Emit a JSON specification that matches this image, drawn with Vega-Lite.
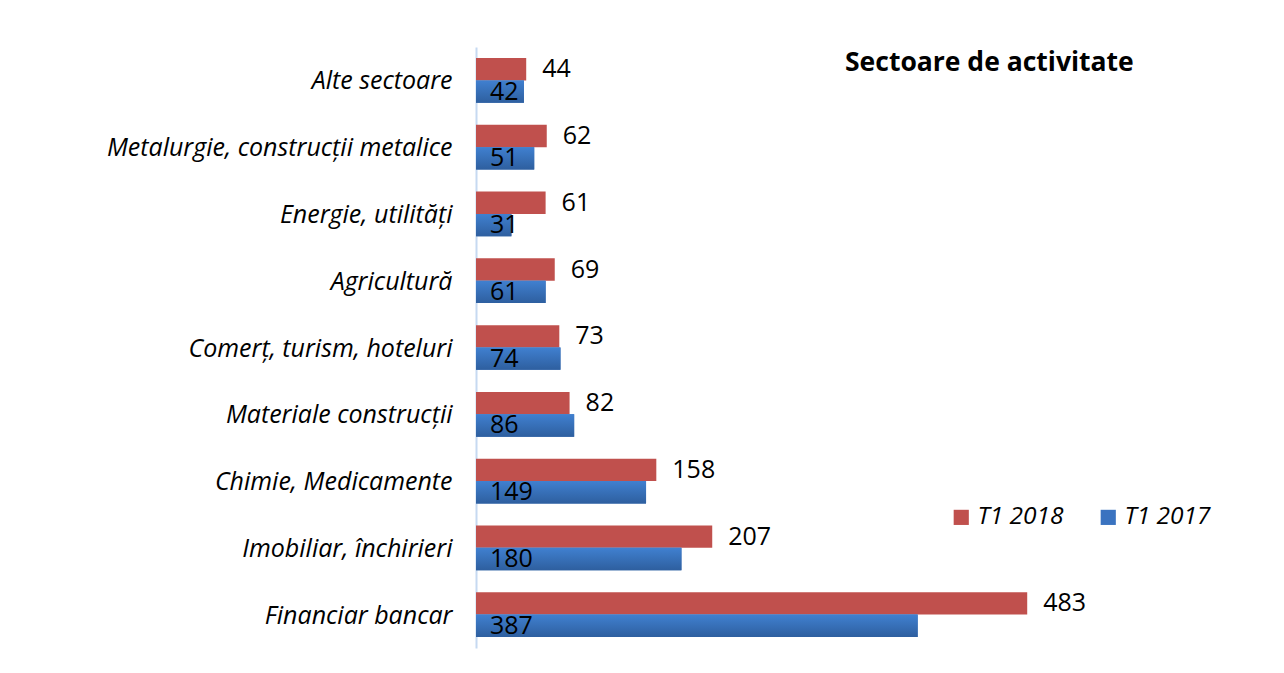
{
  "$schema": "https://vega.github.io/schema/vega-lite/v6.json",
  "autosize": {"type": "none"},
  "width": 800,
  "height": 601,
  "padding": {"left": 476, "top": 47, "right": 8, "bottom": 25},
  "background": "white",
  "config": {"view": {"stroke": null}, "font": "Open Sans"},
  "title": {
    "text": "Sectoare de activitate",
    "anchor": "start",
    "frame": "group",
    "orient": "top",
    "offset": 0,
    "baseline": "alphabetic",
    "dx": 369,
    "dy": 50,
    "font": "Open Sans",
    "fontSize": 26.5,
    "fontWeight": "bold",
    "color": "#000000"
  },
  "data": {
    "values": [
      {"category": "Alte sectoare", "series": "T1 2018", "value": 44},
      {"category": "Alte sectoare", "series": "T1 2017", "value": 42},
      {"category": "Metalurgie, construcții metalice", "series": "T1 2018", "value": 62},
      {"category": "Metalurgie, construcții metalice", "series": "T1 2017", "value": 51},
      {"category": "Energie, utilități", "series": "T1 2018", "value": 61},
      {"category": "Energie, utilități", "series": "T1 2017", "value": 31},
      {"category": "Agricultură", "series": "T1 2018", "value": 69},
      {"category": "Agricultură", "series": "T1 2017", "value": 61},
      {"category": "Comerț, turism, hoteluri", "series": "T1 2018", "value": 73},
      {"category": "Comerț, turism, hoteluri", "series": "T1 2017", "value": 74},
      {"category": "Materiale construcții", "series": "T1 2018", "value": 82},
      {"category": "Materiale construcții", "series": "T1 2017", "value": 86},
      {"category": "Chimie, Medicamente", "series": "T1 2018", "value": 158},
      {"category": "Chimie, Medicamente", "series": "T1 2017", "value": 149},
      {"category": "Imobiliar, închirieri", "series": "T1 2018", "value": 207},
      {"category": "Imobiliar, închirieri", "series": "T1 2017", "value": 180},
      {"category": "Financiar bancar", "series": "T1 2018", "value": 483},
      {"category": "Financiar bancar", "series": "T1 2017", "value": 387}
    ]
  },
  "encoding": {
    "y": {
      "field": "category",
      "type": "nominal",
      "sort": ["Alte sectoare", "Metalurgie, construcții metalice", "Energie, utilități", "Agricultură", "Comerț, turism, hoteluri", "Materiale construcții", "Chimie, Medicamente", "Imobiliar, închirieri", "Financiar bancar"],
      "scale": {"paddingInner": 0.33, "paddingOuter": 0.165},
      "axis": {
        "title": null,
        "ticks": false,
        "grid": false,
        "domain": true,
        "domainColor": "#c6d9f1",
        "domainWidth": 2,
        "labelFont": "Open Sans",
        "labelFontSize": 25,
        "labelFontStyle": "italic",
        "labelColor": "#000000",
        "labelPadding": 24,
        "labelOffset": 1,
        "labelLimit": 500
      }
    },
    "yOffset": {
      "field": "series",
      "type": "nominal",
      "scale": {"domain": ["T1 2018", "T1 2017"], "paddingInner": 0, "paddingOuter": 0}
    },
    "x": {
      "field": "value",
      "type": "quantitative",
      "scale": {"domain": [0, 701], "nice": false},
      "axis": null
    }
  },
  "layer": [
    {
      "transform": [{"filter": "datum.series === 'T1 2017'"}],
      "mark": {"type": "bar", "color": "#d4d4d4", "yOffset": 5, "x2Offset": 3},
      "encoding": {}
    },
    {
      "mark": {"type": "bar"},
      "encoding": {
        "color": {
          "field": "series",
          "type": "nominal",
          "scale": {"domain": ["T1 2018", "T1 2017"], "range": ["#c0504d", "#3a73c0"]},
          "legend": {
            "title": null,
            "orient": "none",
            "direction": "horizontal",
            "legendX": 473,
            "legendY": 458,
            "symbolType": "square",
            "symbolSize": 230,
            "symbolStrokeWidth": 0,
            "labelFont": "Open Sans",
            "labelFontSize": 24.5,
            "labelFontStyle": "italic",
            "labelColor": "#000000",
            "columnPadding": 32,
            "labelOffset": 4
          }
        }
      }
    },
    {
      "transform": [{"filter": "datum.series === 'T1 2017'"}],
      "mark": {
        "type": "bar",
        "color": {
          "gradient": "linear",
          "x1": 0, "y1": 0, "x2": 0, "y2": 1,
          "stops": [
            {"offset": 0, "color": "#4080d0"},
            {"offset": 1, "color": "#2e5f9f"}
          ]
        }
      },
      "encoding": {}
    },
    {
      "transform": [{"filter": "datum.series === 'T1 2018'"}],
      "mark": {"type": "text", "align": "left", "baseline": "middle", "dx": 16, "font": "Open Sans", "fontSize": 25, "color": "#000000"},
      "encoding": {"text": {"field": "value", "type": "quantitative"}}
    },
    {
      "transform": [{"filter": "datum.series === 'T1 2017'"}],
      "mark": {"type": "text", "align": "left", "baseline": "middle", "dx": 14, "font": "Open Sans", "fontSize": 25, "color": "#000000"},
      "encoding": {
        "x": {"datum": 0, "type": "quantitative"},
        "text": {"field": "value", "type": "quantitative"}
      }
    }
  ]
}
